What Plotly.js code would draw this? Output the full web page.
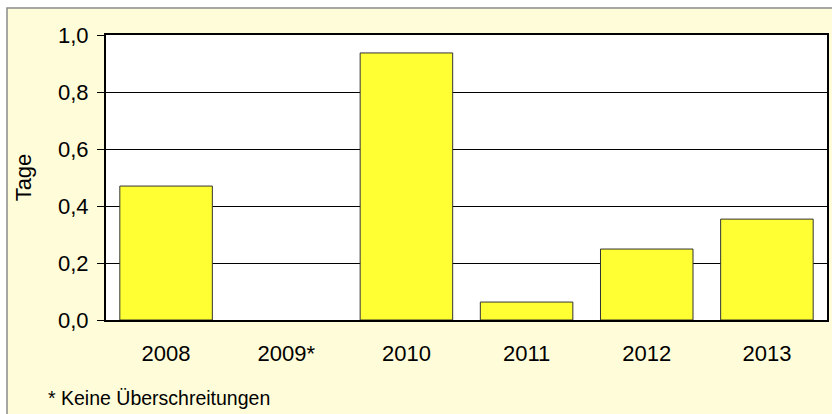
<!DOCTYPE html>
<html><head><meta charset="utf-8">
<script src="https://cdn.plot.ly/plotly-3.0.1.min.js"></script>
<style>html,body{margin:0;padding:0;background:#fff}#c{width:832px;height:414px}</style>
</head><body><div id="c"></div>
<script>
const categories = ["2008", "2009*", "2010", "2011", "2012", "2013"];
const values = [0.47, 0, 0.937, 0.063, 0.249, 0.354];
const yTicks = [0, 0.2, 0.4, 0.6, 0.8, 1.0];
const yTitle = "Tage";
const footnote = "* Keine Überschreitungen";

const W = 832, H = 414;
const mL = 106, mR = 5, mT = 35, mB = 94;
const pw = W - mL - mR, ph = H - mT - mB;
const px = x => (x - mL) / pw;
const py = y => (H - mB - y) / ph;

const font = "Liberation Sans, Arial, sans-serif";
const data = [{
  type: "bar", x: categories, y: values,
  marker: {color: "#FFFF33", line: {color: "#333333", width: values.map(v => v > 0 ? 1 : 0)}},
  hoverinfo: "x+y"
}];
const layout = {
  width: W, height: H,
  margin: {l: mL, r: mR, t: mT, b: mB, pad: 0},
  paper_bgcolor: "#ffffff", plot_bgcolor: "rgba(0,0,0,0)",
  separators: ",.",
  bargap: 0.23,
  showlegend: false,
  font: {family: font, color: "#000000", size: 22},
  xaxis: {
    type: "category", showgrid: false, ticks: "", showline: true, mirror: true,
    linecolor: "#000000", linewidth: 2, tickfont: {size: 22}, ticklabelstandoff: 13,
    fixedrange: true
  },
  yaxis: {
    range: [0, 1.0], tickvals: yTicks, tickformat: ".1f",
    ticks: "outside", ticklen: 7, tickcolor: "#000000", tickwidth: 1,
    showgrid: true, gridcolor: "#000000", gridwidth: 1,
    showline: true, mirror: true, linecolor: "#000000", linewidth: 2,
    zeroline: false, tickfont: {size: 22}, ticklabelstandoff: 4,
    title: {text: yTitle, font: {size: 22}, standoff: 20},
    fixedrange: true
  },
  shapes: [
    {type: "rect", xref: "paper", yref: "paper", layer: "below",
     x0: px(7), x1: px(900), y0: py(8), y1: py(500),
     fillcolor: "#FFFDD9", line: {color: "#8a8a8a", width: 1.5}},
    {type: "rect", xref: "paper", yref: "paper", layer: "below",
     x0: 0, x1: 1, y0: 0, y1: 1, fillcolor: "#ffffff", line: {width: 0}}
  ],
  annotations: [
    {text: footnote, xref: "paper", yref: "paper", x: px(46), y: py(398),
     xanchor: "left", yanchor: "middle", showarrow: false, font: {size: 19.5}}
  ]
};
Plotly.newPlot("c", data, layout, {displayModeBar: false, staticPlot: true});
</script></body></html>
